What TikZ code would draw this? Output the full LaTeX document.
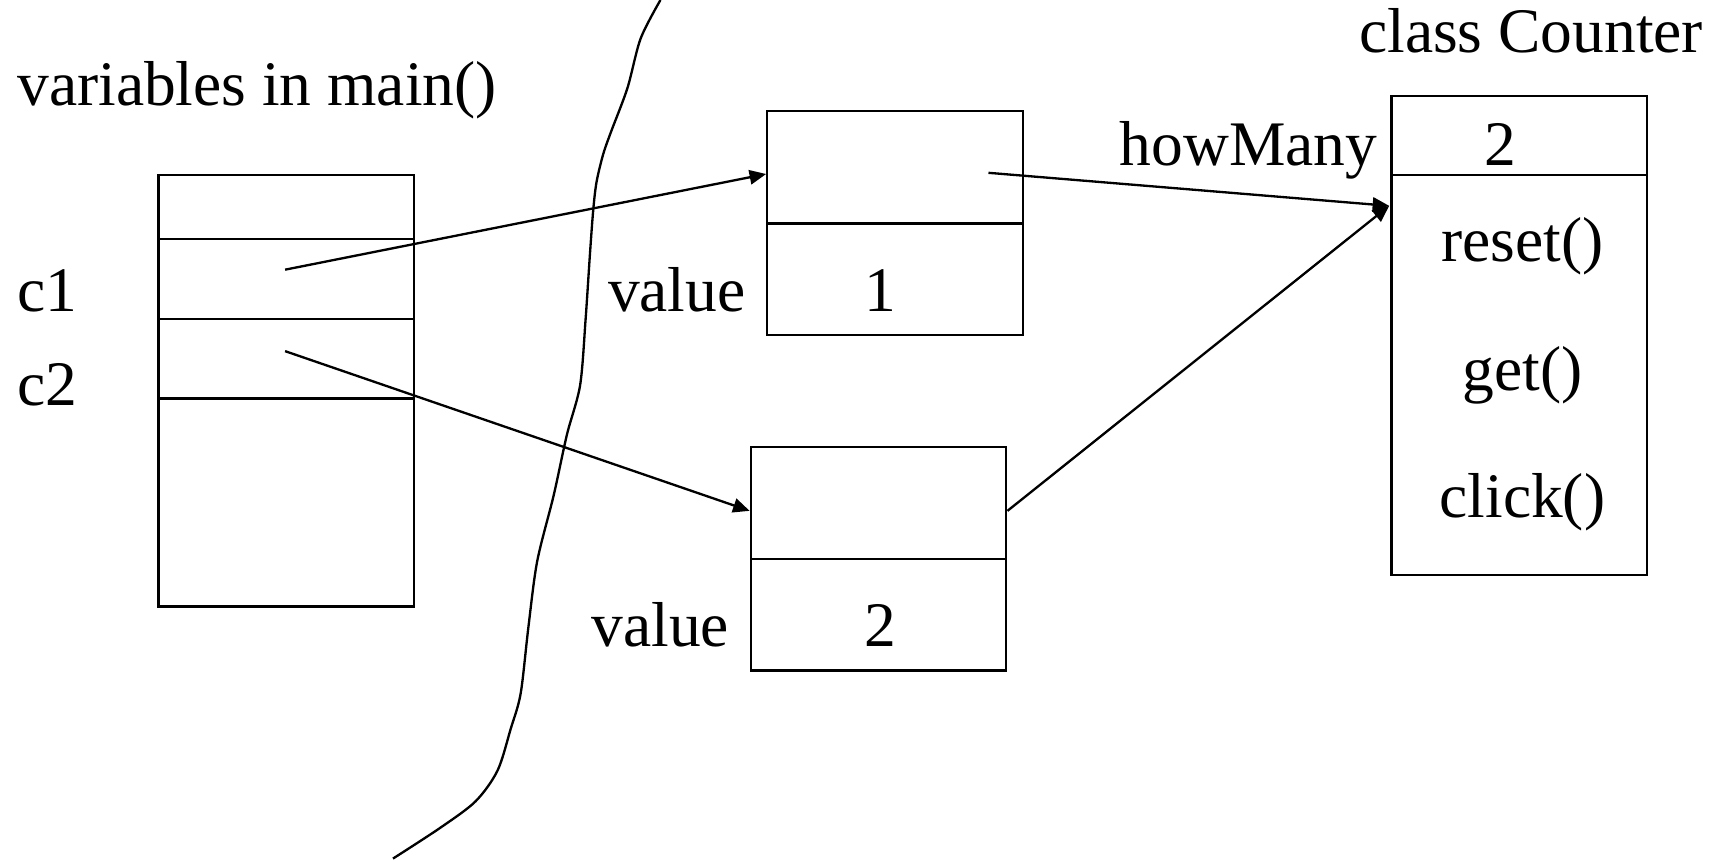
\documentclass[tikz,border=0pt]{standalone}
\usepackage{fontspec}
\setmainfont{Liberation Serif}
\usetikzlibrary{arrows.meta}

\tikzset{
  cell/.style={draw, line width=0.6pt, rectangle, inner sep=0pt,
    minimum width=2.32cm, anchor=north west},
  lbl/.style={inner sep=0pt, font=\fontsize{16.4}{19}\selectfont},
  ptr/.style={line width=0.6pt, -{Triangle[length=0.15cm,width=0.13cm]}}
}

\begin{document}
\begin{tikzpicture}[x=0.01cm, y=-0.01cm]
    \useasboundingbox (0,0) rectangle (1568,782);
    % stack of main()
    \foreach \name/\top/\h in {stop/158/58, c1cell/216/73, c2cell/289/72, sbot/361/189}
      \node[cell, minimum height=\h*0.01cm] (\name) at (143,\top) {};
    \node[lbl, anchor=base west] (title) at (15,96) {variables in main()};
    \node[lbl, anchor=base west] (c1) at (15,283) {c1};
    \node[lbl, anchor=base west] (c2) at (15,368) {c2};
    % the two objects
    \node[cell, minimum height=1.02cm] (o1ref) at (696,100) {};
    \node[cell, minimum height=1.01cm] (o1val) at (696,202) {};
    \node[cell, minimum height=1.02cm] (o2ref) at (681,405) {};
    \node[cell, minimum height=1.01cm] (o2val) at (681,507) {};
    \node[lbl, anchor=base east] (v1) at (678,283) {value};
    \node[lbl, anchor=base] (n1) at (800,283) {1};
    \node[lbl, anchor=base east] (v2) at (663,587) {value};
    \node[lbl, anchor=base] (n2) at (800,587) {2};
    % class Counter
    \node[cell, minimum height=0.72cm] (hm) at (1263,86) {};
    \node[cell, minimum height=3.63cm] (meth) at (1263,158) {};
    \node[lbl, anchor=base] (cname) at (1391,48) {class Counter};
    \node[lbl, anchor=base east] (hmlbl) at (1252,150) {howMany};
    \node[lbl, anchor=base] (hmval) at (1363,150) {2};
    \node[lbl, anchor=base] (m1) at (1383,238) {reset()};
    \node[lbl, anchor=base] (m2) at (1383,355) {get()};
    \node[lbl, anchor=base] (m3) at (1383,470) {click()};
    % pointers
    \coordinate (p1) at (259,245);
    \coordinate (p2) at (259,319);
    \coordinate (q1) at (898,157);
    \coordinate (cls) at (1262,187);
    \draw[ptr] (p1) -- ([yshift=-0.06cm]o1ref.west);
    \draw[ptr] (p2) -- ([yshift=-0.07cm]o2ref.west);
    \draw[ptr] (q1) -- (cls);
    \draw[ptr] ([yshift=-0.07cm]o2ref.east) -- (cls);
    % boundary
    \draw[line width=0.6pt] plot[smooth] coordinates {(357,780) (400,752) (432,728) (452,700) (464,662)
      (473,630) (480,570) (488,510) (503,450) (515,395) (527,350) (532,290) (536,230)
      (539,190) (542,165) (548,140) (555,120) (570,80) (582,35) (600,0)};
\end{tikzpicture}
\end{document}
